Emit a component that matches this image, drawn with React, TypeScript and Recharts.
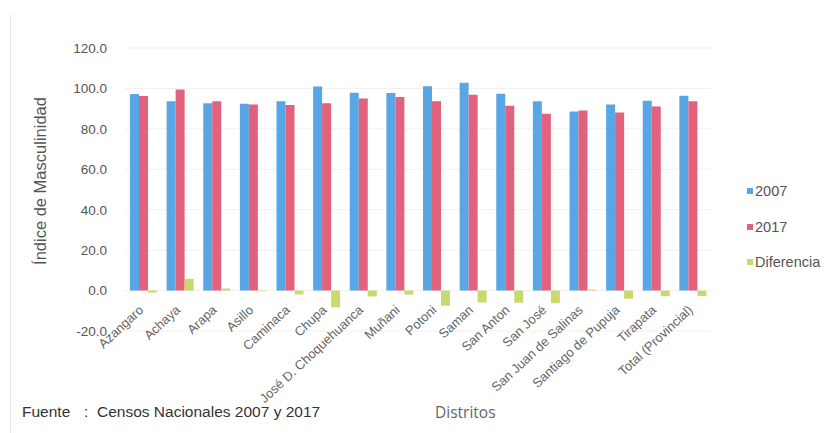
import { Bar, BarChart, CartesianGrid, XAxis, YAxis } from 'recharts'

const distritos = [
  'Azangaro',
  'Achaya',
  'Arapa',
  'Asillo',
  'Caminaca',
  'Chupa',
  'José D. Choquehuanca',
  'Muñani',
  'Potoni',
  'Saman',
  'San Anton',
  'San José',
  'San Juan de Salinas',
  'Santiago de Pupuja',
  'Tirapata',
  'Total (Provincial)',
]

const indice2007 = [97.2, 93.7, 92.7, 92.4, 93.7, 101.0, 97.9, 97.7, 101.1, 102.8, 97.4, 93.7, 88.6, 92.1, 93.9, 96.4]
const indice2017 = [96.2, 99.5, 93.7, 92.1, 91.8, 92.7, 95.0, 95.7, 93.6, 96.9, 91.4, 87.5, 89.1, 88.1, 91.1, 93.7]
const diferencia = [-1.0, 5.8, 1.0, -0.3, -1.9, -8.3, -2.9, -2.0, -7.5, -5.9, -6.0, -6.2, 0.5, -4.0, -2.8, -2.7]

const yTicks = [-20, 0, 20, 40, 60, 80, 100, 120]

const series = [
  { key: 'y2007', name: '2007', color: '#58a6e6' },
  { key: 'y2017', name: '2017', color: '#e2617c' },
  { key: 'dif', name: 'Diferencia', color: '#c9d96b' },
]

const data = distritos.map((name, i) => ({
  name,
  y2007: indice2007[i],
  y2017: indice2017[i],
  dif: diferencia[i],
}))

const font = '"Liberation Sans", Arial, sans-serif'

// category labels hang from the zero line, like the original
const XTick = ({ x, y, payload }: any) => (
  <g transform={`translate(${x + 1},${y - 28})`}>
    <text textAnchor="end" transform="rotate(-43)" fontSize={13} fill="#666" fontFamily={font}>
      {payload.value}
    </text>
  </g>
)

export default function App() {
  return (
    <div style={{ position: 'absolute', left: 0, top: 0, width: 839, height: 433, background: '#fff', fontFamily: font }}>
      <div style={{ position: 'absolute', left: 10, top: 15, width: 0, height: 418, borderLeft: '1px solid #e6e6e6' }} />
      <BarChart
        width={839}
        height={433}
        data={data}
        margin={{ top: 48, right: 128, left: 0, bottom: 72 }}
        barGap={0}
        barSize={9}
      >
        <CartesianGrid vertical={false} stroke="#f0f0f0" />
        <XAxis dataKey="name" interval={0} axisLine={false} tickLine={false} tick={<XTick />} height={30} />
        <YAxis
          width={125}
          domain={[-20, 120]}
          ticks={yTicks}
          axisLine={false}
          tickLine={false}
          tickMargin={12}
          tickFormatter={(v: number) => v.toFixed(1)}
          tick={{ fill: '#555', fontSize: 13.5, fontFamily: font }}
        />
        {series.map((s) => (
          <Bar key={s.key} dataKey={s.key} name={s.name} fill={s.color} isAnimationActive={false} />
        ))}
      </BarChart>

      <div
        style={{
          position: 'absolute',
          left: 40,
          top: 181,
          transform: 'translate(-50%, -50%) rotate(-90deg)',
          whiteSpace: 'nowrap',
          fontSize: 16.5,
          color: '#555',
        }}
      >
        Índice de Masculinidad
      </div>

      {series.map((s, i) => (
        <div
          key={s.key}
          style={{
            position: 'absolute',
            left: 747,
            top: 182 + i * 35.5,
            height: 18,
            display: 'flex',
            alignItems: 'center',
            fontSize: 14.5,
            color: '#555',
          }}
        >
          <span style={{ display: 'inline-block', width: 6, height: 6, background: s.color, marginRight: 2 }} />
          {s.name}
        </div>
      ))}

      <div style={{ position: 'absolute', left: 22, top: 403, fontSize: 15.5, color: '#333' }}>Fuente</div>
      <div style={{ position: 'absolute', left: 84, top: 403, fontSize: 15.5, color: '#333' }}>:</div>
      <div style={{ position: 'absolute', left: 97, top: 403, fontSize: 15.5, color: '#333', whiteSpace: 'nowrap' }}>
        Censos Nacionales 2007 y 2017
      </div>
      <div style={{ position: 'absolute', left: 435, top: 401, fontSize: 15.5, color: '#666', fontFamily: '"Open Sans", sans-serif' }}>
        Distritos
      </div>
    </div>
  )
}
